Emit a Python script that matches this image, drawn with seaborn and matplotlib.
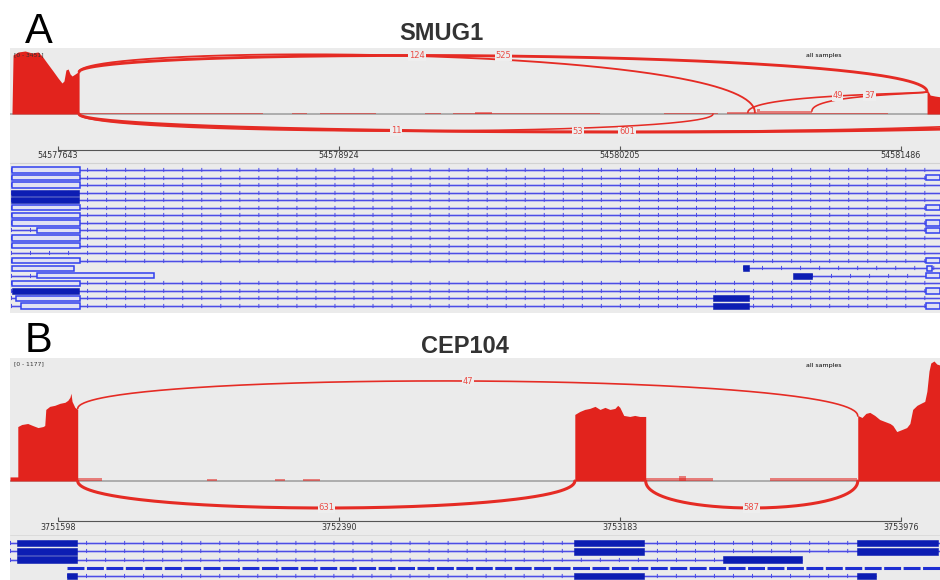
import numpy as np
import matplotlib
matplotlib.use("Agg")
import matplotlib.pyplot as plt
import seaborn as sns

sns.set_theme(style="white")
plt.rcParams['font.family'] = ['Liberation Sans', 'DejaVu Sans']
plt.rcParams['lines.scale_dashes'] = False

# ---------------- SMUG1 (panel A) ----------------
smug1_view = [54577424, 54581664]
smug1_ticks = [54577643, 54578924, 54580205, 54581486]
smug1_range = 3451
smug1_cov_pos = [54577433, 54577438, 54577461, 54577493, 54577524, 54577552, 54577570,
                 54577593, 54577620, 54577643, 54577661, 54577670, 54577679, 54577689,
                 54577698, 54577707, 54577721, 54577734, 54577739, 54577739,
                 54581605, 54581605, 54581610, 54581619, 54581641, 54581664]
smug1_cov_depth = [0, 3085, 3242, 3294, 3190, 3242, 3033,
                   2667, 2249, 1882, 1621, 1726, 2301, 2353,
                   2092, 1987, 2092, 2196, 2196, 0,
                   0, 1100, 1200, 990, 940, 900]
smug1_low_start = [54577743, 54578710, 54578837, 54579316, 54579444, 54579544,
                   54580406, 54580693, 54580830, 54580843, 54581080]
smug1_low_end = [54578578, 54578778, 54579093, 54579389, 54580114, 54579622,
                 54580652, 54580830, 54580843, 54581080, 54581427]
smug1_low_depth = [60, 60, 60, 60, 70, 120, 70, 80, 280, 150, 60]
smug1_junc_start = [54577739, 54577739, 54580788, 54581080, 54577739, 54577739, 54577739]
smug1_junc_end = [54581605, 54580820, 54581605, 54581605, 54580629, 54582288, 54582735]
smug1_junc_count = [525, 124, 49, 37, 11, 53, 601]

# transcript features: (row, start, end)
smug1_introns = [(r, 54577429, 54581664) for r in [0, 1, 2, 3, 4, 5, 6, 7, 8, 9, 10, 11, 12, 15, 16, 17, 18]] + \
                [(13, 54580766, 54581664), (14, 54577429, 54577547), (14, 54581080, 54581664)]
smug1_utr = [(0, 54577433, 54577743), (1, 54577433, 54577743), (2, 54577433, 54577743),
             (5, 54577433, 54577743), (6, 54577433, 54577743), (7, 54577433, 54577743),
             (8, 54577547, 54577743), (9, 54577433, 54577743), (10, 54577433, 54577743),
             (12, 54577433, 54577743), (13, 54577433, 54577716), (14, 54577547, 54578081),
             (15, 54577433, 54577743), (17, 54577452, 54577743), (18, 54577474, 54577743),
             (1, 54581600, 54581664), (5, 54581600, 54581664), (7, 54581600, 54581664),
             (8, 54581600, 54581664), (12, 54581600, 54581664), (13, 54581605, 54581627),
             (14, 54581600, 54581664), (16, 54581600, 54581664), (18, 54581600, 54581664)]
smug1_cds = [(3, 54577429, 54577739), (4, 54577429, 54577739), (16, 54577433, 54577739),
             (13, 54580766, 54580793), (14, 54580994, 54581080),
             (17, 54580629, 54580793), (18, 54580629, 54580793)]

# ---------------- CEP104 (panel B) ----------------
cep104_view = [3751463, 3754086]
cep104_ticks = [3751598, 3752390, 3753183, 3753976]
cep104_range = 1177
cep104_cov_pos = [3751463, 3751485, 3751485, 3751496, 3751513, 3751527, 3751542, 3751556,
                  3751561, 3751564, 3751575, 3751589, 3751604, 3751618, 3751626, 3751632,
                  3751635, 3751638, 3751646, 3751654, 3751654,
                  3753056, 3753056, 3753070, 3753084, 3753098, 3753113, 3753127, 3753141,
                  3753155, 3753169, 3753177, 3753183, 3753194, 3753211, 3753225, 3753239,
                  3753256, 3753256,
                  3753854, 3753854, 3753866, 3753877, 3753888, 3753902, 3753916, 3753930,
                  3753945, 3753953, 3753964, 3753978, 3753992, 3754001, 3754009, 3754021,
                  3754032, 3754043, 3754049, 3754055, 3754060, 3754069, 3754077, 3754086]
cep104_cov_depth = [40, 40, 534, 554, 564, 544, 524, 534,
                    544, 702, 732, 742, 762, 772, 791, 821,
                    861, 781, 722, 702, 0,
                    0, 653, 682, 702, 712, 732, 702, 722,
                    702, 712, 742, 722, 643, 633, 643, 633,
                    633, 0,
                    0, 643, 623, 663, 673, 643, 603, 584,
                    564, 544, 485, 504, 524, 564, 702, 742,
                    762, 781, 880, 1078, 1157, 1177, 1147, 1137]
cep104_low_start = [3751654, 3752018, 3752210, 3752289, 3753256, 3753350, 3753606]
cep104_low_end = [3751722, 3752046, 3752238, 3752337, 3753445, 3753370, 3753851]
cep104_low_depth = [25, 20, 20, 20, 25, 45, 30]
cep104_junc_start = [3751654, 3751654, 3753256]
cep104_junc_end = [3753854, 3753056, 3753854]
cep104_junc_count = [47, 631, 587]

cep104_introns = [(0, 3751463, 3754086), (1, 3751463, 3754086), (2, 3751463, 3753696),
                  (4, 3751623, 3753905)]
cep104_dashed = [(3, 3751623, 3754086)]
cep104_cds = [(0, 3751482, 3751652), (0, 3753053, 3753251), (0, 3753851, 3754080),
              (1, 3751482, 3751652), (1, 3753053, 3753251), (1, 3753851, 3754080),
              (2, 3751482, 3751652), (2, 3753474, 3753696),
              (4, 3751623, 3751652), (4, 3753053, 3753251), (4, 3753851, 3753905)]

# ---------------- styling ----------------
W, H = 940, 580
BG = '#ebebeb'
RED = '#e2231d'
ARC = '#e52b24'
LBL = '#ea4d47'
BLUE = '#3040ee'
LINE = '#4a4ae4'
HALO = '#b6b8ee'
DARK = '#0c1db3'
TXT = '#333333'

fig = plt.figure(figsize=(W / 100, H / 100), dpi=100)


def px_axes(x0, y0, x1, y1, bg=False):
    ax = fig.add_axes([x0 / W, 1 - y1 / H, (x1 - x0) / W, (y1 - y0) / H])
    if bg:
        ax.set_facecolor(BG)
        ax.set_xticks([])
        ax.set_yticks([])
        for s in ax.spines.values():
            s.set_visible(False)
    else:
        ax.set_axis_off()
    return ax


def bezier(x0, x1, y0, y1, h, n=150):
    t = np.linspace(0, 1, n)
    bx = (1 - t) ** 3 * x0 + 3 * (1 - t) ** 2 * t * x0 + 3 * (1 - t) * t ** 2 * x1 + t ** 3 * x1
    by = (1 - t) ** 3 * y0 + 3 * (1 - t) ** 2 * t * h + 3 * (1 - t) * t ** 2 * h + t ** 3 * y1
    return bx, by


def draw_coverage(ax, view, rng, pos, depth, ls, le, ld, js, je, jc, peaks,
                  ax_top, rng_top, base, bot):
    cpp = rng / (base - rng_top)
    ax.set_xlim(view)
    ax.set_ylim(-(bot - base) * cpp, (base - ax_top) * cpp)
    ax.axhline(0, color='#9c9c9c', lw=1.1, zorder=1)
    # low intronic coverage, drawn lighter like in IGV
    ax.bar(ls, ld, width=np.subtract(le, ls), align='edge', color=RED, alpha=0.55,
           lw=0, zorder=2)
    ax.fill_between(pos, depth, 0, color=RED, lw=0, zorder=2)

    def depth_at(x):
        d = max(np.interp(x - 3, pos, depth), np.interp(x + 3, pos, depth))
        for s, e, v in zip(ls, le, ld):
            if s - 3 <= x <= e + 3:
                d = max(d, v)
        return d

    for s, e, c, p in zip(js, je, jc, peaks):
        p = p * cpp
        if p > 0:
            y0, y1 = depth_at(s), depth_at(e)
        else:
            y0 = y1 = 0
        h = (p - (y0 + y1) / 8) / 0.75
        bx, by = bezier(s, e, y0, y1, h)
        lw = 1.1 + 1.1 * min(c, 600) / 600
        sns.lineplot(x=bx, y=by, ax=ax, color=ARC, lw=lw, estimator=None, sort=False,
                     zorder=3)
        ax.text((s + e) / 2, p, str(c), ha='center', va='center', fontsize=6,
                color=LBL, family='DejaVu Sans', clip_on=True, zorder=5,
                bbox=dict(boxstyle='square,pad=0.08', fc='#eeeeee', ec='none'))


def draw_ruler(ax, view, ticks, y_line, y_text, top, bottom):
    ax.set_xlim(view)
    ax.set_ylim(bottom, top)
    ax.plot([ticks[0], ticks[-1]], [y_line, y_line], color='#555555', lw=0.8)
    ax.vlines(ticks, y_line - 4, y_line, color='#555555', lw=0.8)
    for t in ticks:
        ax.text(t, y_text, str(t), ha='center', va='baseline', fontsize=5.8,
                color=TXT, family='DejaVu Sans')


def draw_transcripts(ax, view, nrows, top_off, bot_off, introns, utr, cds, dashed=(), box_h=0.8):
    ax.set_xlim(view)
    ax.set_ylim(nrows - 1 + bot_off, -top_off)
    for r, s, e in introns:
        ax.plot([s, e], [r, r], color=HALO, lw=2.0, solid_capstyle='butt', zorder=1)
        ax.plot([s, e], [r, r], color=LINE, lw=0.7, solid_capstyle='butt', zorder=2)
        ax.plot([s, e], [r, r], color=LINE, lw=3.0, linestyle=(0, (0.7, 13)), zorder=2)
    for r, s, e in dashed:
        ax.plot([s, e], [r, r], color='#1d2ed2', lw=2.2, linestyle=(0, (12.2, 1.8)), zorder=2)
    if utr:
        ax.barh([u[0] for u in utr], [u[2] - u[1] for u in utr], left=[u[1] for u in utr],
                height=box_h * 0.9, color='#e0e1f3', edgecolor=BLUE, lw=1.1, zorder=3)
    if cds:
        ax.barh([c[0] for c in cds], [c[2] - c[1] for c in cds], left=[c[1] for c in cds],
                height=box_h, color=DARK, edgecolor=DARK, lw=0.4, zorder=3)


# ---------------- panel A ----------------
px_axes(10, 48, 940, 313, bg=True)
covA = px_axes(10, 48, 940, 142)
draw_coverage(covA, smug1_view, smug1_range, smug1_cov_pos, smug1_cov_depth,
              smug1_low_start, smug1_low_end, smug1_low_depth,
              smug1_junc_start, smug1_junc_end, smug1_junc_count,
              [58, 58, 18, 18, -17, -18, -18],
              ax_top=48, rng_top=48, base=114, bot=142)
rulA = px_axes(10, 142, 940, 163)
draw_ruler(rulA, smug1_view, smug1_ticks, 150, 158.5, 142, 163)
trA = px_axes(10, 163, 940, 313)
draw_transcripts(trA, smug1_view, 19, 7 / 7.55, (313 - 306) / 7.55,
                 smug1_introns, smug1_utr, smug1_cds, box_h=0.8)
fig.add_artist(plt.Line2D([10 / W, 1], [1 - 163 / H] * 2, color='#d2d2d2', lw=0.8))

fig.text(39 / W, 1 - 43 / H, 'A', ha='center', va='baseline', fontsize=30, color='black')
fig.text(441 / W, 1 - 40 / H, 'SMUG1', ha='center', va='baseline', fontsize=17,
         fontweight='bold', color=TXT)
fig.text(14 / W, 1 - 55 / H, '[0 - %d]' % smug1_range, ha='left', va='center',
         fontsize=4.3, color=TXT, family='DejaVu Sans', zorder=10)
fig.text(824 / W, 1 - 56 / H, 'all samples', ha='center', va='center', fontsize=4.5,
         color='black', family='DejaVu Sans')

# ---------------- panel B ----------------
px_axes(10, 358, 940, 580, bg=True)
covB = px_axes(10, 358, 940, 515)
draw_coverage(covB, cep104_view, cep104_range, cep104_cov_pos, cep104_cov_depth,
              cep104_low_start, cep104_low_end, cep104_low_depth,
              cep104_junc_start, cep104_junc_end, cep104_junc_count,
              [100, -27, -27],
              ax_top=358, rng_top=361, base=481, bot=515)
rulB = px_axes(10, 515, 940, 535)
draw_ruler(rulB, cep104_view, cep104_ticks, 521, 530, 515, 535)
trB = px_axes(10, 535, 940, 580)
draw_transcripts(trB, cep104_view, 5, 8 / 8.25, (580 - 576) / 8.25,
                 cep104_introns, [], cep104_cds, dashed=cep104_dashed, box_h=0.82)
fig.add_artist(plt.Line2D([10 / W, 1], [1 - 535 / H] * 2, color='#d8d8d8', lw=0.6))

fig.text(38.5 / W, 1 - 352 / H, 'B', ha='center', va='baseline', fontsize=30, color='black')
fig.text(465 / W, 1 - 353 / H, 'CEP104', ha='center', va='baseline', fontsize=17,
         fontweight='bold', color=TXT)
fig.text(14 / W, 1 - 364 / H, '[0 - %d]' % cep104_range, ha='left', va='center',
         fontsize=4.3, color=TXT, family='DejaVu Sans')
fig.text(824 / W, 1 - 366 / H, 'all samples', ha='center', va='center', fontsize=4.5,
         color='black', family='DejaVu Sans')

fig.savefig('out.png', dpi=100)
